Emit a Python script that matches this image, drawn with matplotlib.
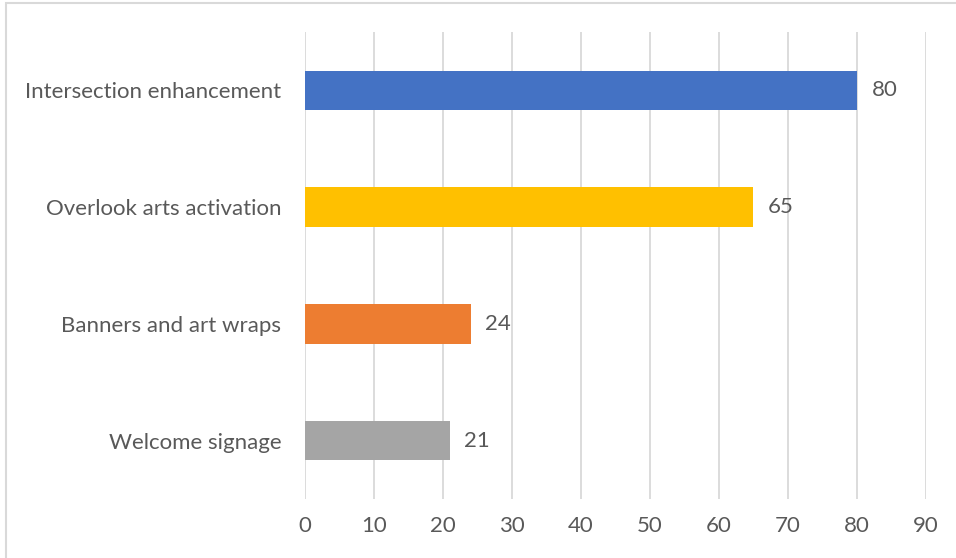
import matplotlib.pyplot as plt
from matplotlib.patches import Rectangle

# data (bottom to top)
categories = ['Welcome signage', 'Banners and art wraps',
              'Overlook arts activation', 'Intersection enhancement']
values = [21, 24, 65, 80]
colors = ['#A5A5A5', '#ED7D31', '#FFC000', '#4472C4']
xticks = list(range(0, 100, 10))

W, H = 956, 558
fig = plt.figure(figsize=(W / 100, H / 100), dpi=100)
ax = fig.add_axes([305 / W, 1 - 499 / H, (926 - 305) / W, (499 - 32) / H])

txt = '#595959'
font = 'Lato'
fs = 16

ax.barh(range(len(categories)), values, height=0.34, color=colors, zorder=3)
for i, v in enumerate(values):
    ax.text(v + 2.1, i, str(v), va='center', ha='left', fontsize=fs,
            color=txt, family=font)

ax.set_xlim(0, 90)
ax.set_ylim(-0.5, 3.5)
ax.set_xticks(xticks)
ax.set_xticklabels([str(t) for t in xticks], fontsize=fs, color=txt, family=font)
ax.set_yticks(range(len(categories)))
ax.set_yticklabels(categories, fontsize=fs, color=txt, family=font)
ax.tick_params(length=0)
ax.tick_params(axis='x', pad=12)
ax.tick_params(axis='y', pad=17)
ax.grid(axis='x', color='#D9D9D9', linewidth=1.3, zorder=0)
for s in ax.spines.values():
    s.set_visible(False)

# light frame around the chart
fig.patches.append(Rectangle((6 / W, -0.1), 1.2, 1 - 3 / H + 0.1,
                             transform=fig.transFigure, fill=False,
                             edgecolor='#D9D9D9', linewidth=1.5))

fig.savefig('out.png', dpi=100)
